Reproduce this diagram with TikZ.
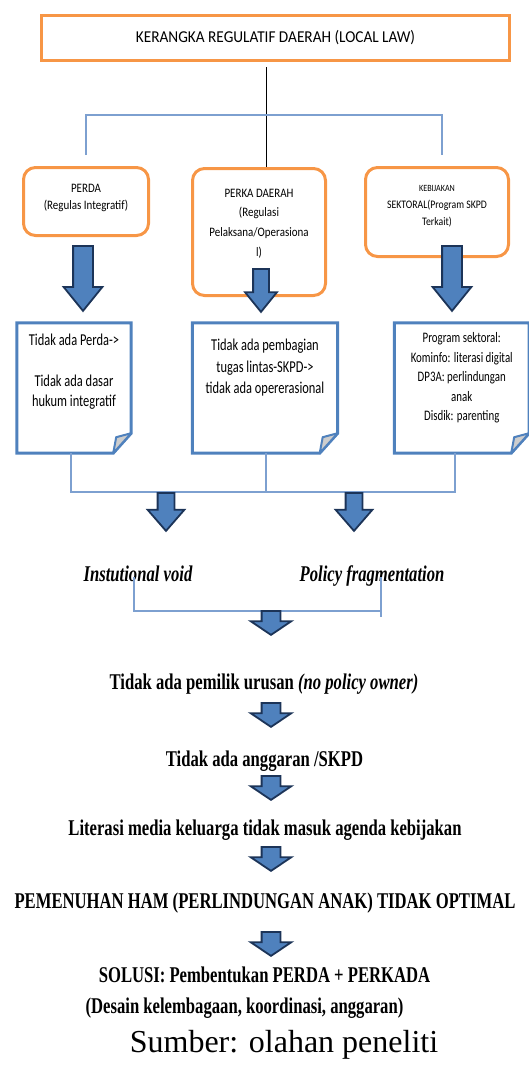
\documentclass[tikz,border=0pt]{standalone}
\usepackage{fontspec}
\setmainfont{Liberation Serif}
\newfontfamily\titlefont[FakeStretch=0.92]{Carlito}
\newfontfamily\rulefont[FakeStretch=0.85]{Carlito}
\newfontfamily\notefont[FakeStretch=0.75]{Carlito}
\newfontfamily\narrowserif[FakeStretch=0.74]{Liberation Serif}
\usetikzlibrary{shapes.arrows, calc, positioning}
\definecolor{lawline}{RGB}{247, 150, 70}
\definecolor{noteblue}{RGB}{79, 129, 189}
\definecolor{arrowfill}{RGB}{79, 129, 189}
\definecolor{arrowline}{RGB}{28, 52, 88}
\definecolor{foldgray}{RGB}{205, 205, 205}
\definecolor{branchblue}{RGB}{125, 160, 208}
\tikzstyle{lawbox}     = [rectangle, draw=lawline, line width=3pt, minimum width=468pt,
                          minimum height=45pt, font=\titlefont\fontsize{16.6}{19}\selectfont]
\tikzstyle{rulebox}    = [rectangle, rounded corners=12pt, draw=lawline, line width=3pt,
                          inner sep=0pt, font=\rulefont\fontsize{12.9}{17}\selectfont]
\tikzstyle{notebox}    = [rectangle, inner sep=0pt, font=\notefont\fontsize{16.6}{20.3}\selectfont]
\tikzstyle{noteline}   = [draw=noteblue, line width=3pt]
\tikzstyle{foldpart}   = [fill=foldgray, draw=noteblue, line width=2pt, line join=round]
\tikzstyle{branchline} = [draw=branchblue, line width=1.2pt]
\tikzstyle{stemline}   = [draw=black, line width=0.9pt]
\tikzstyle{bigarrow}   = [single arrow, rotate=-90, anchor=tail, draw=arrowline, fill=arrowfill,
                          line width=1.8pt, inner xsep=0.5pt, inner ysep=9pt,
                          single arrow head extend=9.5pt, single arrow tip angle=78,
                          minimum height=65pt]
\tikzstyle{midarrow}   = [bigarrow, inner ysep=7.5pt, single arrow head extend=10pt,
                          single arrow tip angle=82, minimum height=38pt]
\tikzstyle{smallarrow} = [bigarrow, inner ysep=8.5pt, single arrow head extend=11pt,
                          single arrow tip angle=112, minimum height=24pt]
\tikzstyle{effect}     = [anchor=base, inner sep=0pt,
                          font=\narrowserif\bfseries\fontsize{22.5}{27}\selectfont]
% text block placed from the top of a box: height, width, first baseline, lines
\newcommand{\boxlines}[4]{\parbox[c][#1][t]{#2}{\centering\rule{0pt}{#3}#4}}
% outline of a note with a folded corner
\newcommand{\foldnote}[1]{%
  \draw[noteline] (#1.north west) -- (#1.north east) -- ([yshift=20pt]#1.south east)
    -- ([xshift=-18pt]#1.south east) -- (#1.south west) -- cycle;
  \draw[foldpart] ([yshift=20pt]#1.south east) -- ([xshift=-15pt,yshift=16pt]#1.south east)
    -- ([xshift=-18pt]#1.south east) -- cycle;
}

\begin{document}
\begin{tikzpicture}[x=1pt, y=-1pt]
  \useasboundingbox (0,0) rectangle (528,1072);

  \node (law)      [lawbox]  at (275.5,38) {KERANGKA REGULATIF DAERAH (LOCAL LAW)};

  % Three kinds of regulation
  \node (perda)    [rulebox] at (86,201.5)
                   {\boxlines{68pt}{125pt}{24.5pt}{PERDA\\(Regulas Integratif)}};
  \node (perka)    [rulebox, font=\rulefont\fontsize{12.9}{19.7}\selectfont] at (259,232)
                   {\boxlines{127pt}{133pt}{28.5pt}{PERKA DAERAH\\(Regulasi\\Pelaksana/Operasiona\\l)}};
  \node (sektoral) [rulebox, font=\rulefont\fontsize{11.5}{17}\selectfont] at (437,212)
                   {\boxlines{89pt}{143pt}{24pt}{{\fontsize{9.5}{17}\selectfont KEBIJAKAN}\\SEKTORAL(Program SKPD\\Terkait)}};

  \coordinate (hub) at (266,115);
  \draw [stemline]   ($(law.south -| hub)+(0,5)$) -- (hub |- perka.north);
  \draw [branchline] ($(perda.north)+(0,-11)$) |- (hub) -| ($(sektoral.north)+(5,-11)$);

  \node (toA) [bigarrow] at (83,245) {};
  \node (toB) [bigarrow, inner ysep=7pt, single arrow head extend=8pt, minimum height=43pt] at (261,268) {};
  \node (toC) [bigarrow] at (452,245) {};

  % Consequences
  \node (noperda)  [notebox] at (74,388)
                   {\boxlines{130pt}{114pt}{22.5pt}{Tidak ada Perda->\\[20.3pt]Tidak ada dasar\\hukum integratif}};
  \node (notugas)  [notebox, font=\notefont\fontsize{16.6}{21.5}\selectfont] at (265,388)
                   {\boxlines{130pt}{145pt}{27.7pt}{Tidak ada pembagian\\tugas lintas-SKPD->\\tidak ada opererasional}};
  \node (program)  [notebox, font=\notefont\fontsize{14.5}{19.5}\selectfont] at (461.75,388)
                   {\boxlines{130pt}{134.5pt}{19.7pt}{Program sektoral:\\Kominfo: literasi digital\\DP3A: perlindungan\\anak\\Disdik: parenting}};
  \foldnote{noperda}
  \foldnote{notugas}
  \foldnote{program}

  \coordinate (meet) at (266,492);
  \draw [branchline] ([xshift=-3pt]noperda.south) |- (meet) -| ([xshift=-6.75pt]program.south);
  \draw [branchline] ([xshift=1pt]notugas.south) -- (meet);

  \node (toVoid) [midarrow] at (166,492) {};
  \node (toFrag) [midarrow] at (354,492) {};

  \node (void)     [effect, font=\narrowserif\bfseries\itshape\fontsize{22.5}{27}\selectfont] at (138,581) {Instutional void};
  \node (frag)     [effect, font=\narrowserif\bfseries\itshape\fontsize{22.5}{27}\selectfont] at (372,581) {Policy fragmentation};
  \draw [branchline] ([xshift=-4pt,yshift=4pt]void.base) |- ($(frag.base)+(9,30)$);
  \draw [branchline] ([xshift=9pt,yshift=4pt]frag.base) -- ++(0,40);

  % Chain of effects
  \node (toOwner)    [smallarrow] at (271,610) {};
  \node (owner)      [effect] at (264,689) {Tidak ada pemilik urusan \textit{(no policy owner)}};
  \node (toBudget)   [smallarrow] at (271,702) {};
  \node (budget)     [effect] at (264.5,766) {Tidak ada anggaran /SKPD};
  \node (toAgenda)   [smallarrow] at (271,775) {};
  \node (agenda)     [effect] at (265,835) {Literasi media keluarga tidak masuk agenda kebijakan};
  \node (toRights)   [smallarrow] at (271,846) {};
  \node (rights)     [effect] at (265,908) {PEMENUHAN HAM (PERLINDUNGAN ANAK) TIDAK OPTIMAL};
  \node (toSolution) [smallarrow] at (271,931) {};
  \node (solution)   [effect] at (264.5,982) {SOLUSI: Pembentukan PERDA + PERKADA};
  \node (design)     [effect] at (244.5,1013) {(Desain kelembagaan, koordinasi, anggaran)};

  \node (source)   [anchor=base, inner sep=0pt, font=\fontsize{32}{38}\selectfont] at (284,1052) {Sumber: olahan peneliti};
\end{tikzpicture}
\end{document}
